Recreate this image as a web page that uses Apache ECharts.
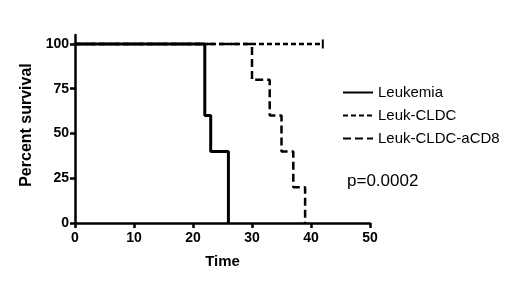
<!DOCTYPE html>
<html><head><meta charset="utf-8">
<script src="https://cdn.jsdelivr.net/npm/echarts@6/dist/echarts.min.js"></script>
<style>html,body{margin:0;padding:0;background:#fff}#c{width:520px;height:286px}</style>
</head><body><div id="c"></div>
<script>
var seriesNames = ['Leukemia', 'Leuk-CLDC', 'Leuk-CLDC-aCD8'];
var leukTimes = [0, 22, 23, 26];
var leukSurv = [100, 60, 40, 0];
var cldcTimes = [0, 42];
var cldcSurv = [100, 100];
var cd8Times = [0, 30, 33, 35, 37, 39];
var cd8Surv = [100, 80, 60, 40, 20, 0];
var xTicks = [0, 10, 20, 30, 40, 50];
var yTicks = [0, 25, 50, 75, 100];
var pText = 'p=0.0002';

function pairs(t, s) { return t.map(function (v, i) { return [v, s[i]]; }); }

var FF = 'Liberation Sans, Arial, sans-serif';
var chart = echarts.init(document.getElementById('c'), null, {renderer: 'canvas'});
var axisFont = {fontFamily: FF, fontWeight: 'bold', fontSize: 14, color: '#000'};
var cldcData = pairs(cldcTimes, cldcSurv).map(function (p, i, a) {
  return i === a.length - 1 ? {value: p, symbol: 'rect', symbolSize: [2, 9]} : {value: p, symbol: 'none'};
});
chart.setOption({
  animation: false,
  grid: {left: 75, right: 150, top: 35, bottom: 63, containLabel: false},
  xAxis: {
    type: 'value', min: 0, max: 50, interval: 10,
    name: 'Time', nameLocation: 'middle', nameGap: 31,
    nameTextStyle: {fontFamily: FF, fontWeight: 'bold', fontSize: 15, color: '#000'},
    axisLine: {lineStyle: {color: '#000', width: 2.5}},
    axisTick: {show: true, length: 5, lineStyle: {color: '#000', width: 2.5}, customValues: xTicks},
    axisLabel: Object.assign({margin: 8, customValues: xTicks}, axisFont),
    splitLine: {show: false}
  },
  yAxis: {
    type: 'value', min: 0, max: 105,
    name: 'Percent survival', nameLocation: 'middle', nameGap: 40, nameRotate: 90,
    nameTextStyle: {fontFamily: FF, fontWeight: 'bold', fontSize: 16, color: '#000', padding: [0, 0, 0, 8]},
    axisLine: {show: true, lineStyle: {color: '#000', width: 2.5}},
    axisTick: {show: true, length: 5, lineStyle: {color: '#000', width: 2.5}, customValues: yTicks},
    axisLabel: Object.assign({margin: 6, customValues: yTicks}, axisFont),
    splitLine: {show: false}
  },
  legend: {
    orient: 'vertical', left: 337, top: 80, itemWidth: 30, itemHeight: 14, itemGap: 8,
    data: seriesNames,
    itemStyle: {color: 'rgba(0,0,0,0)', borderWidth: 0},
    textStyle: {fontFamily: FF, fontSize: 15, color: '#000'}
  },
  series: [
    {name: seriesNames[0], type: 'line', step: 'end', data: pairs(leukTimes, leukSurv),
     symbol: 'none', z: 3,
     lineStyle: {color: '#000', width: 3}, itemStyle: {color: '#000'}},
    {name: seriesNames[1], type: 'line', step: 'end', data: cldcData,
     symbol: 'rect', symbolSize: [2, 8], showSymbol: true, z: 2,
     lineStyle: {color: '#000', width: 2.5, type: [5, 3]}, itemStyle: {color: '#000'}},
    {name: seriesNames[2], type: 'line', step: 'end', data: pairs(cd8Times, cd8Surv),
     symbol: 'none', z: 2,
     lineStyle: {color: '#000', width: 2.5, type: [8, 4]}, itemStyle: {color: '#000'}}
  ],
  graphic: [{type: 'text', left: 347, top: 173,
    style: {text: pText, font: '17px Liberation Sans, Arial, sans-serif', fill: '#000'}}]
});
</script></body></html>
